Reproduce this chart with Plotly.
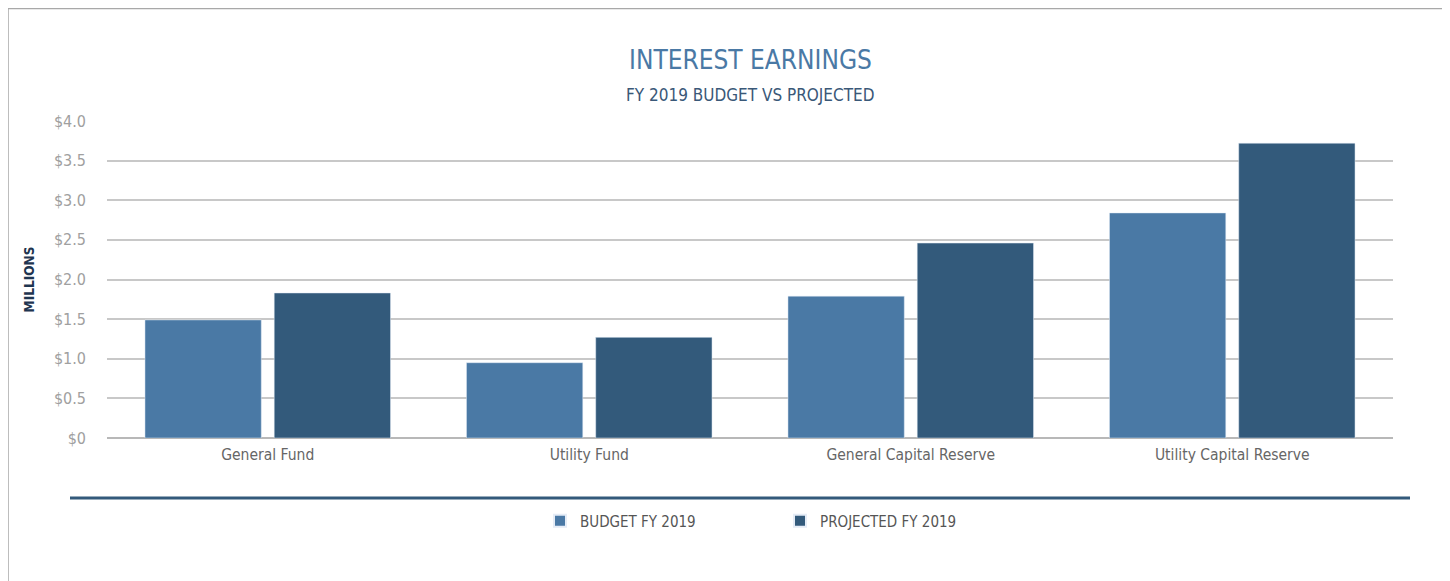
import plotly.graph_objects as go

categories = ['General Fund', 'Utility Fund', 'General Capital Reserve', 'Utility Capital Reserve']
budget = [1.49, 0.95, 1.79, 2.84]
projected = [1.83, 1.27, 2.46, 3.72]
tick_vals = [0, 0.5, 1.0, 1.5, 2.0, 2.5, 3.0, 3.5, 4.0]
tick_text = ['$0', '$0.5', '$1.0', '$1.5', '$2.0', '$2.5', '$3.0', '$3.5', '$4.0']

font = 'Liberation Sans Narrow, DejaVu Sans Condensed, Arial Narrow, sans-serif'

# page body has an 8px margin, so work in page coords minus 8
OFF = 8
W, H = 1450 - OFF, 581 - OFF
L, R, T, B = 107 - OFF, 57, 121 - OFF, 143
pw, ph = W - L - R, H - T - B

def px(x):
    return (x - OFF - L) / pw

def py(y):
    return (H - B - (y - OFF)) / ph

fig = go.Figure()
fig.add_trace(go.Bar(name='BUDGET FY 2019', x=categories, y=budget, marker_color='#4a79a5'))
fig.add_trace(go.Bar(name='PROJECTED FY 2019', x=categories, y=projected, marker_color='#335a7b'))

fig.update_layout(
    width=W, height=H, autosize=False,
    margin=dict(l=L, r=R, t=T, b=B),
    paper_bgcolor='white', plot_bgcolor='white',
    font=dict(family=font, color='#666666', size=15),
    barmode='group', bargap=0.196, bargroupgap=0.1,
    showlegend=True,
    legend=dict(orientation='h', x=px(780), xanchor='center', y=py(521), yanchor='middle',
                entrywidth=195, font=dict(size=15, color='#555555'), itemsizing='constant'),
    xaxis=dict(showgrid=False, showline=False, ticks='', ticklabelstandoff=5,
               tickfont=dict(size=15.5, color='#666666')),
    yaxis=dict(range=[0, 4.0], tickvals=tick_vals, ticktext=tick_text, showgrid=True,
               gridcolor='#c8c8c8', gridwidth=1.5, zeroline=True, zerolinecolor='#b8b8b8',
               zerolinewidth=1.5, ticks='', ticklabelstandoff=20,
               tickfont=dict(size=16, color='#a0a0a0'),
               title=dict(text='<b>MILLIONS</b>', font=dict(size=13.5, color='#1f3550'), standoff=16)),
    shapes=[
        dict(type='rect', xref='paper', yref='paper', x0=px(8), x1=px(1446), y0=py(620), y1=py(8.5),
             line=dict(color='#a8a8a8', width=1.5), fillcolor='rgba(0,0,0,0)', layer='below'),
        dict(type='line', xref='paper', yref='paper', x0=px(70), x1=px(1410), y0=py(498), y1=py(498),
             line=dict(color='#335a7b', width=3)),
    ],
    annotations=[
        dict(text='INTEREST EARNINGS', xref='paper', yref='paper', x=0.5, y=py(60), xanchor='center',
             yanchor='middle', showarrow=False, font=dict(size=26, color='#4a79a5', family=font)),
        dict(text='FY 2019 BUDGET VS PROJECTED', xref='paper', yref='paper', x=0.5, y=py(95),
             xanchor='center', yanchor='middle', showarrow=False,
             font=dict(size=17, color='#3a5878', family=font)),
    ],
)

fig.write_html('out.html')
